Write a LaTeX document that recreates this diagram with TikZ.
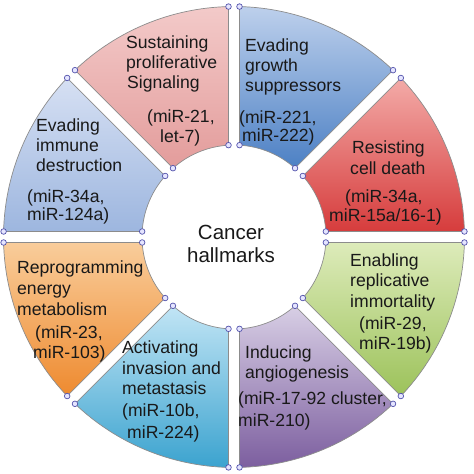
\documentclass[tikz,border=0pt]{standalone}
\usepackage{fontspec}
\setmainfont{Liberation Sans}
\begin{document}
\begin{tikzpicture}[
  segstyle/.style={draw=black!45, line width=0.7pt},
  handle/.style={draw=blue!35!gray, fill=blue!10!white, line width=0.7pt},
  lbl/.style={anchor=base west, inner sep=0pt, font=\fontsize{17.6}{20}\selectfont, text=black!90},
  ctr/.style={anchor=base, inner sep=0pt, font=\fontsize{20.5}{24}\selectfont, text=black!90}
]
\useasboundingbox (0pt,0pt) rectangle (474pt,474pt);
\def\Rout{230.5}
\def\Rin{92}
\def\gapd{5.5}
\pgfmathsetmacro\dO{asin(\gapd/\Rout)}
\pgfmathsetmacro\dI{asin(\gapd/\Rin)}
\newcommand\ringseg[4]{%
  \pgfmathsetmacro\sa{#1+\dO}\pgfmathsetmacro\ea{#2-\dO}%
  \pgfmathsetmacro\sb{#2-\dI}\pgfmathsetmacro\eb{#1+\dI}%
  \path[segstyle, top color=#3, bottom color=#4]
    (\sa:\Rout pt) arc[start angle=\sa, end angle=\ea, radius=\Rout pt]
    -- (\sb:\Rin pt) arc[start angle=\sb, end angle=\eb, radius=\Rin pt] -- cycle;
}
\newcommand\ringdots[2]{%
  \pgfmathsetmacro\sa{#1+\dO}\pgfmathsetmacro\ea{#2-\dO}%
  \pgfmathsetmacro\sb{#2-\dI}\pgfmathsetmacro\eb{#1+\dI}%
  \draw[handle] (\sa:\Rout pt) circle[radius=2.8pt];
  \draw[handle] (\ea:\Rout pt) circle[radius=2.8pt];
  \draw[handle] (\sb:\Rin pt) circle[radius=2.8pt];
  \draw[handle] (\eb:\Rin pt) circle[radius=2.8pt];
}
\definecolor{c1t}{HTML}{F3CAC9}\definecolor{c1b}{HTML}{E39C9B}
\definecolor{c2t}{HTML}{BDD0EC}\definecolor{c2b}{HTML}{4C80C4}
\definecolor{c3t}{HTML}{F3ABA8}\definecolor{c3b}{HTML}{D63C3C}
\definecolor{c4t}{HTML}{DDEBBA}\definecolor{c4b}{HTML}{9CC25A}
\definecolor{c5t}{HTML}{D8CFE5}\definecolor{c5b}{HTML}{7C5E9F}
\definecolor{c6t}{HTML}{C2E5F5}\definecolor{c6b}{HTML}{3BA3CF}
\definecolor{c7t}{HTML}{F9CD9B}\definecolor{c7b}{HTML}{EE8A2F}
\definecolor{c8t}{HTML}{D6E0F3}\definecolor{c8b}{HTML}{9DB6DF}
\begin{scope}[shift={(234pt,237pt)}]
  \ringseg{90}{135}{c1t}{c1b}
  \ringseg{45}{90}{c2t}{c2b}
  \ringseg{0}{45}{c3t}{c3b}
  \ringseg{-45}{0}{c4t}{c4b}
  \ringseg{-90}{-45}{c5t}{c5b}
  \ringseg{-135}{-90}{c6t}{c6b}
  \ringseg{-180}{-135}{c7t}{c7b}
  \ringseg{135}{180}{c8t}{c8b}
  \ringdots{90}{135}
  \ringdots{45}{90}
  \ringdots{0}{45}
  \ringdots{-45}{0}
  \ringdots{-90}{-45}
  \ringdots{-135}{-90}
  \ringdots{-180}{-135}
  \ringdots{135}{180}
\end{scope}
% center
\node[ctr] (cA) at (231pt,234pt) {Cancer};
\node[ctr] (cB) at (231pt,211pt) {hallmarks};
% Sustaining
\node[lbl] (s1) at (126pt,425pt) {Sustaining};
\node[lbl] (s2) at (126pt,405pt) {proliferative};
\node[lbl] (s3) at (127pt,385pt) {Signaling};
\node[lbl] (s4) at (147pt,351pt) {(miR-21,};
\node[lbl] (s5) at (160pt,331pt) {let-7)};
% Evading growth
\node[lbl] (g1) at (245pt,422pt) {Evading};
\node[lbl] (g2) at (245pt,402pt) {growth};
\node[lbl] (g3) at (245pt,382pt) {suppressors};
\node[lbl] (g4) at (239pt,350pt) {(miR-221,};
\node[lbl] (g5) at (242pt,332pt) {miR-222)};
% Resisting
\node[lbl] (r1) at (352pt,320pt) {Resisting};
\node[lbl] (r2) at (350pt,299pt) {cell death};
\node[lbl] (r3) at (345pt,271pt) {(miR-34a,};
\node[lbl] (r4) at (329pt,252pt) {miR-15a/16-1)};
% Enabling
\node[lbl] (e1) at (350pt,207pt) {Enabling};
\node[lbl] (e2) at (350pt,187pt) {replicative};
\node[lbl] (e3) at (350pt,166pt) {immortality};
\node[lbl] (e4) at (359pt,144pt) {(miR-29,};
\node[lbl] (e5) at (359pt,124pt) {miR-19b)};
% Inducing
\node[lbl] (i1) at (245pt,115pt) {Inducing};
\node[lbl] (i2) at (245pt,95pt) {angiogenesis};
\node[lbl] (i3) at (238pt,69pt) {(miR-17-92 cluster,};
\node[lbl] (i4) at (238pt,47pt) {miR-210)};
% Activating
\node[lbl] (a1) at (122pt,120pt) {Activating};
\node[lbl] (a2) at (122pt,99pt) {invasion and};
\node[lbl] (a3) at (122pt,79pt) {metastasis};
\node[lbl] (a4) at (122pt,57pt) {(miR-10b,};
\node[lbl] (a5) at (127pt,35pt) {miR-224)};
% Reprogramming
\node[lbl] (p1) at (17pt,200pt) {Reprogramming};
\node[lbl] (p2) at (17pt,179pt) {energy};
\node[lbl] (p3) at (17pt,158pt) {metabolism};
\node[lbl] (p4) at (35pt,135pt) {(miR-23,};
\node[lbl] (p5) at (33pt,115pt) {miR-103)};
% Evading immune
\node[lbl] (m1) at (36pt,342pt) {Evading};
\node[lbl] (m2) at (36pt,322pt) {immune};
\node[lbl] (m3) at (36pt,302pt) {destruction};
\node[lbl] (m4) at (27pt,271pt) {(miR-34a,};
\node[lbl] (m5) at (27pt,253pt) {miR-124a)};
\end{tikzpicture}
\end{document}
